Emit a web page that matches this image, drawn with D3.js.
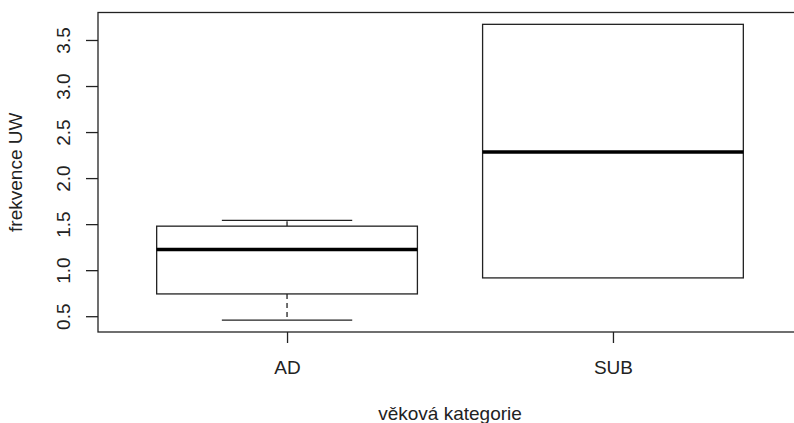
<!DOCTYPE html>
<html>
<head>
<meta charset="utf-8">
<script src="https://cdn.jsdelivr.net/npm/d3@7"></script>
<style>
  body { margin: 0; background: #fff; }
  text { font-family: "Liberation Sans", Arial, sans-serif; fill: #222; }
</style>
</head>
<body>
<div class="chart"></div>
<script>
// data
const categories = ["AD", "SUB"];
const lowWhisker = [0.457, 0.916];
const q1         = [0.742, 0.916];
const medians    = [1.225, 2.283];
const q3         = [1.478, 3.67];
const highWhisker= [1.540, 3.67];
const yTicks = [0.5, 1.0, 1.5, 2.0, 2.5, 3.0, 3.5];

const W = 794, H = 423;
const margin = { top: 12.5, right: -8, bottom: 91, left: 98 };
const width = W - margin.left - margin.right,
      height = H - margin.top - margin.bottom;
const fs = "19px";

const svg = d3.select(".chart").append("svg")
    .attr("width", W)
    .attr("height", H);

const g = svg.append("g")
    .attr("transform", "translate(" + margin.left + "," + margin.top + ")");

// R style: positions 1..n, xlim 0.5..n+0.5 with 4% extension
const n = categories.length;
const xpad = n * 0.04;
const x = d3.scaleLinear().domain([0.5 - xpad, n + 0.5 + xpad]).range([0, width]);

const ymin = d3.min(lowWhisker), ymax = d3.max(highWhisker);
const ypad = (ymax - ymin) * 0.04;
const y = d3.scaleLinear().domain([ymin - ypad, ymax + ypad]).range([height, 0]);

const boxes = categories.map((c, i) => ({
  name: c, pos: i + 1,
  lo: lowWhisker[i], q1: q1[i], med: medians[i], q3: q3[i], hi: highWhisker[i]
}));

const ink = "#222";
const bw = 0.8; // box width in x units

// frame
g.append("rect")
  .attr("x", 0).attr("y", 0)
  .attr("width", width).attr("height", height)
  .attr("fill", "none").attr("stroke", ink).attr("stroke-width", 1.3);

// y axis
const yAxis = d3.axisLeft(y).tickValues(yTicks).tickFormat(d3.format(".1f")).tickSize(12).tickPadding(4);
const ya = g.append("g").call(yAxis);
ya.select(".domain").remove();
ya.selectAll(".tick line").attr("stroke", ink).attr("stroke-width", 1.3);
ya.selectAll(".tick text")
  .attr("x", null).attr("dy", null)
  .attr("transform", "translate(-28,0) rotate(-90)")
  .attr("text-anchor", "middle")
  .style("font-size", fs).attr("fill", ink);

// x axis
const xAxis = d3.axisBottom(x).tickValues(boxes.map(d => d.pos)).tickFormat((d, i) => categories[i]).tickSize(11).tickPadding(18);
const xa = g.append("g").attr("transform", "translate(0," + height + ")").call(xAxis);
xa.select(".domain").remove();
xa.selectAll(".tick line").attr("stroke", ink).attr("stroke-width", 1.3);
xa.selectAll(".tick text").style("font-size", fs).attr("fill", ink);

// boxes
const b = g.selectAll(".box").data(boxes).enter().append("g").attr("class", "box");

// whiskers (dashed)
b.filter(d => d.lo < d.q1).append("line")
  .attr("x1", d => x(d.pos)).attr("x2", d => x(d.pos))
  .attr("y1", d => y(d.q1)).attr("y2", d => y(d.lo))
  .attr("stroke", ink).attr("stroke-width", 1.3).attr("stroke-dasharray", "5,4");
b.filter(d => d.hi > d.q3).append("line")
  .attr("x1", d => x(d.pos)).attr("x2", d => x(d.pos))
  .attr("y1", d => y(d.q3)).attr("y2", d => y(d.hi))
  .attr("stroke", ink).attr("stroke-width", 1.3).attr("stroke-dasharray", "5,4");

// whisker caps
b.filter(d => d.lo < d.q1).append("line")
  .attr("x1", d => x(d.pos - bw / 4)).attr("x2", d => x(d.pos + bw / 4))
  .attr("y1", d => y(d.lo)).attr("y2", d => y(d.lo))
  .attr("stroke", ink).attr("stroke-width", 1.3);
b.filter(d => d.hi > d.q3).append("line")
  .attr("x1", d => x(d.pos - bw / 4)).attr("x2", d => x(d.pos + bw / 4))
  .attr("y1", d => y(d.hi)).attr("y2", d => y(d.hi))
  .attr("stroke", ink).attr("stroke-width", 1.3);

b.append("rect")
  .attr("x", d => x(d.pos - bw / 2))
  .attr("width", d => x(d.pos + bw / 2) - x(d.pos - bw / 2))
  .attr("y", d => y(d.q3))
  .attr("height", d => y(d.q1) - y(d.q3))
  .attr("fill", "#fff").attr("stroke", ink).attr("stroke-width", 1.3);

b.append("line")
  .attr("x1", d => x(d.pos - bw / 2)).attr("x2", d => x(d.pos + bw / 2))
  .attr("y1", d => y(d.med)).attr("y2", d => y(d.med))
  .attr("stroke", "#000").attr("stroke-width", 3.5);

// axis titles
svg.append("text")
  .attr("transform", "translate(22," + (margin.top + height / 2) + ") rotate(-90)")
  .attr("text-anchor", "middle")
  .style("font-size", fs)
  .text("frekvence UW");

svg.append("text")
  .attr("x", 450).attr("y", 420)
  .attr("text-anchor", "middle")
  .style("font-size", fs)
  .text("věková kategorie");
</script>
</body>
</html>
